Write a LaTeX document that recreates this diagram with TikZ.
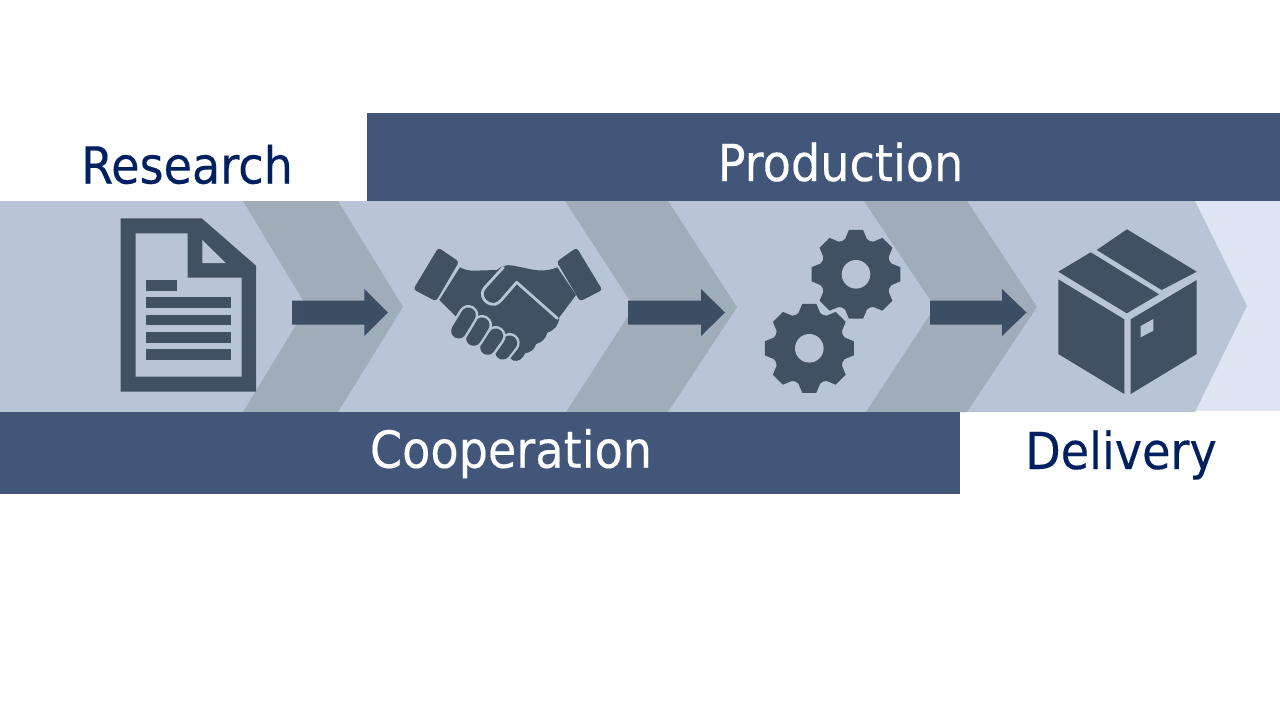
\documentclass[tikz,border=0pt]{standalone}
\usepackage{fontspec}
\setmainfont{DejaVu Sans}[FakeStretch=0.905,FakeBold=0.25]
\definecolor{bandc}{HTML}{B9C5D6}
\definecolor{overc}{HTML}{A1ACBB}
\definecolor{tailc}{HTML}{DFE6F3}
\definecolor{barc}{HTML}{42567A}
\definecolor{iconc}{HTML}{415062}
\definecolor{arrowc}{HTML}{34465C}
\definecolor{navyc}{HTML}{002060}
\tikzset{
  icon/.style={fill=iconc,draw=none},
  cutout/.style={fill=bandc,draw=none},
  overlap/.style={fill=overc,draw=none},
  flow/.style={fill=arrowc,fill opacity=.92,draw=none},
  barbox/.style={fill=barc,draw=none},
  biglabel/.style={font=\fontsize{51}{56}\selectfont,anchor=base,inner sep=0pt},
  gap/.style={draw=bandc,line width=2.8pt,line cap=round,line join=round},
  fingerback/.style={draw=bandc,line width=20pt,line cap=round},
  fingerfront/.style={draw=iconc,line width=15pt,line cap=round},
}
\newcommand{\gearshape}[3]{%
  \fill[icon,shift={(#1,#2)},preaction={draw=bandc,line width=4pt}] (-17:37)
    foreach \a in {0,45,...,315}{ -- (\a-17:37) -- (\a-9:45) -- (\a+9:45) -- (\a+17:37) -- (\a+22.5:36) } -- cycle;
  \fill[cutout] (#1,#2) circle (#3);
}
\begin{document}
\begin{tikzpicture}[x=1pt,y=-1pt]
\useasboundingbox (0,0) rectangle (1280,720);
% band
\fill[tailc] (0,201) rectangle (1280,410.5);
\fill[bandc] (0,201) -- (1195,201) -- (1247,306) -- (1195,412) -- (0,412) -- cycle;
% overlaps
\fill[overlap] (243,201) -- (338,201) -- (403,307) -- (338,412) -- (243,412) -- (307,307) -- cycle;
\fill[overlap] (565,201) -- (668,201) -- (737,307) -- (668,412) -- (566,412) -- (634,307) -- cycle;
\fill[overlap] (864,201) -- (967,201) -- (1037,307) -- (967,412) -- (866,412) -- (935,307) -- cycle;
% bars
\fill[barbox] (367,113) rectangle (1280,201);
\fill[barbox] (0,412) rectangle (960,494);
% labels
\node[biglabel,text=navyc] (research) at (187,183.5) {Research};
\node[biglabel,text=white] (production) at (840.5,181) {Production};
\node[biglabel,text=white] (cooperation) at (511,467.7) {Cooperation};
\node[biglabel,text=navyc] (delivery) at (1121,469) {Delivery};
% document icon
\fill[icon] (120.7,218.3) -- (201.7,218.3) -- (256,265.7) -- (256,391.7) -- (120.7,391.7) -- cycle;
\fill[cutout] (135.7,233.3) -- (187.7,233.3) -- (187.7,277.7) -- (241.7,277.7) -- (241.7,376.7) -- (135.7,376.7) -- cycle;
\fill[cutout] (202.3,240) -- (225.7,263) -- (202.3,263) -- cycle;
\fill[icon] (146.3,280.3) rectangle (176.7,291);
\fill[icon] (146.3,297.3) rectangle (230.7,308.3);
\fill[icon] (146.3,314.7) rectangle (230.7,325.3);
\fill[icon] (146.3,332) rectangle (230.7,342.7);
\fill[icon] (146.3,349) rectangle (230.7,359.7);
% arrows
\fill[flow] (292,300.7) -- (364.3,300.7) -- (364.3,289) -- (388,312.5) -- (364.3,336) -- (364.3,324.5) -- (292,324.5) -- cycle;
\fill[flow] (628,300.7) -- (701,300.7) -- (701,289) -- (725,312.5) -- (701,336) -- (701,324.5) -- (628,324.5) -- cycle;
\fill[flow] (930,300.7) -- (1002,300.7) -- (1002,289) -- (1026.5,312.5) -- (1002,336) -- (1002,324.5) -- (930,324.5) -- cycle;
% handshake
\begin{scope}[shift={(400,230)},x=.33333pt,y=-.33333pt]
  \fill[icon,rounded corners=3pt] (115,53) -- (177,95) -- (108,214) -- (40,178) -- cycle;
  \fill[icon,rounded corners=3pt] (530,53) -- (607,180) -- (540,214) -- (470,95) -- cycle;
  \fill[icon] (180,112) .. controls (195,120) and (205,122) .. (225,122)
    -- (290,120) .. controls (305,108) and (320,104) .. (335,106)
    -- (375,114) .. controls (405,122) and (440,126) .. (472,112)
    -- (528,195) -- (478,262) .. controls (476,285) and (465,300) .. (442,308)
    .. controls (438,325) and (425,338) .. (408,342)
    .. controls (405,358) and (390,368) .. (375,370)
    .. controls (370,385) and (355,396) .. (340,392)
    -- (300,360) -- (160,300) -- (170,262) -- (118,210) -- cycle;
  \draw[gap] (310,112) -- (255,172) .. controls (235,195) and (255,225) .. (285,223)
    .. controls (292,222) and (298,216) .. (304,210) -- (350,157) -- (472,265);
  \draw[fingerback] (329,339) -- (306,368);
  \draw[fingerfront] (329,339) -- (308,366);
  \draw[fingerback] (287,318) -- (263,352);
  \draw[fingerfront] (287,318) -- (263,352);
  \draw[fingerback] (246,285) -- (221,325);
  \draw[fingerfront] (246,285) -- (221,325);
  \draw[fingerback] (205,255) -- (176,303);
  \draw[fingerfront] (205,255) -- (176,303);
\end{scope}
% gears
\gearshape{856}{274.3}{14.3}
\gearshape{809.3}{348.3}{14.3}
% box
\fill[icon] (1127,229.3) -- (1196.7,271.7) -- (1161.7,290) -- (1096.7,250) -- cycle;
\fill[icon] (1090.7,252.3) -- (1159,294.3) -- (1126.7,313.3) -- (1058.3,271.7) -- cycle;
\fill[icon] (1058.3,279.3) -- (1124.3,319.3) -- (1124.3,394) -- (1058.3,354) -- cycle;
\fill[icon] (1130.7,319.3) -- (1196.7,280) -- (1196.7,354) -- (1130.7,394) -- cycle;
\fill[cutout] (1140.7,326) -- (1153.3,319) -- (1153.3,330.7) -- (1140.7,337.3) -- cycle;
\end{tikzpicture}
\end{document}
